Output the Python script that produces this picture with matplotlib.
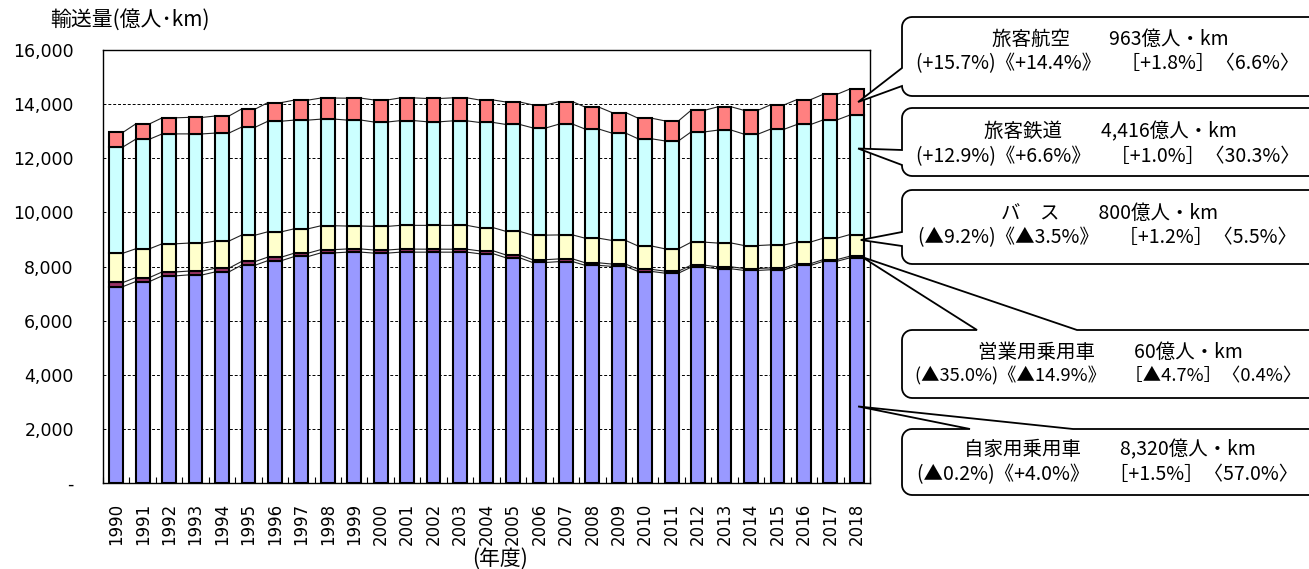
import numpy as np
import matplotlib
matplotlib.use('Agg')
import matplotlib.pyplot as plt
from matplotlib.patches import Polygon

plt.rcParams['font.family'] = ['DejaVu Sans', 'Noto Sans CJK JP']
JP = ['Noto Sans CJK JP', 'DejaVu Sans']

W, H = 1309, 569

years = ['1990', '1991', '1992', '1993', '1994', '1995', '1996', '1997', '1998', '1999',
         '2000', '2001', '2002', '2003', '2004', '2005', '2006', '2007', '2008', '2009',
         '2010', '2011', '2012', '2013', '2014', '2015', '2016', '2017', '2018']
# 輸送量（億人キロ）
jikayo = [7260, 7445, 7655, 7690, 7800, 8050, 8220, 8370, 8505, 8530,
          8495, 8530, 8530, 8530, 8470, 8320, 8150, 8180, 8040, 8005,
          7815, 7755, 7975, 7915, 7855, 7880, 8040, 8195, 8320]
eigyo = [150, 148, 145, 140, 138, 135, 130, 125, 120, 118,
         115, 113, 110, 108, 107, 105, 103, 100, 95, 85,
         78, 75, 73, 72, 70, 68, 66, 63, 60]
bus = [1083, 1062, 1040, 1035, 1002, 975, 935, 900, 880, 847,
       873, 877, 880, 882, 856, 872, 907, 886, 908, 873,
       860, 825, 850, 880, 850, 850, 800, 790, 800]
tetsudo = [3927, 4050, 4060, 4035, 3990, 3990, 4085, 4015, 3940, 3915,
           3857, 3870, 3830, 3863, 3889, 3951, 3964, 4094, 4032, 3967,
           3963, 3987, 4078, 4171, 4115, 4277, 4342, 4372, 4416]
koku = [540, 565, 595, 610, 630, 670, 690, 740, 780, 810,
        815, 840, 860, 850, 830, 830, 850, 830, 810, 760,
        760, 740, 800, 860, 880, 900, 920, 946, 963]

yticks = [0, 2000, 4000, 6000, 8000, 10000, 12000, 14000, 16000]
ylabels = ['-', '2,000', '4,000', '6,000', '8,000', '10,000', '12,000', '14,000', '16,000']

# 吹き出しの文字
callout_text = [
    ('旅客航空　　963億人・km', '(+15.7%)《+14.4%》　［+1.8%］〈6.6%〉'),
    ('旅客鉄道　　4,416億人・km', '(+12.9%)《+6.6%》　［+1.0%］〈30.3%〉'),
    ('バ　ス　　800億人・km', '(▲9.2%)《▲3.5%》　［+1.2%］〈5.5%〉'),
    ('営業用乗用車　　60億人・km', '(▲35.0%)《▲14.9%》　［▲4.7%］〈0.4%〉'),
    ('自家用乗用車　　8,320億人・km', '(▲0.2%)《+4.0%》　［+1.5%］〈57.0%〉'),
]

fig = plt.figure(figsize=(W / 100, H / 100), dpi=100)
ax = fig.add_axes([103 / W, 86 / H, 767 / W, 433 / H])

x = np.arange(len(years))
w = 0.52
series = [(jikayo, '#9999FF'), (eigyo, '#993366'), (bus, '#FFFFCC'),
          (tetsudo, '#CCFFFF'), (koku, '#FF8080')]
bottom = np.zeros(len(years))
levels = []
for vals, col in series:
    ax.bar(x, vals, w, bottom=bottom, color=col, edgecolor='black', linewidth=1.5, zorder=3)
    bottom = bottom + np.array(vals)
    levels.append(bottom.copy())

# 区分線
for lev in levels:
    xs, ys = [], []
    for i in range(len(x) - 1):
        xs += [x[i] + w / 2, x[i + 1] - w / 2, np.nan]
        ys += [lev[i], lev[i + 1], np.nan]
    ax.plot(xs, ys, color='#222222', lw=0.8, zorder=2)

ax.set_xlim(-0.5, len(years) - 0.5)
ax.set_ylim(0, 16000)
ax.set_yticks(yticks)
ax.set_yticklabels(ylabels)
ax.yaxis.grid(True, ls=(0, (3, 2)), color='black', lw=0.7)
ax.set_axisbelow(True)
ax.tick_params(axis='y', length=0, pad=21, labelsize=12.5)
ax.set_xticks(x)
ax.set_xticklabels(years, rotation=90, fontsize=12)
ax.tick_params(axis='x', length=0, pad=14)
ax.set_xticks(np.arange(-0.5, len(years), 1), minor=True)
ax.tick_params(axis='x', which='minor', direction='in', length=4, width=0.8)
for s in ax.spines.values():
    s.set_color('black')
    s.set_linewidth(1)

fig.text(50 / W, 1 - 20 / H, '輸送量(億人･km)', fontsize=15, family=JP, va='center', ha='left')
fig.text(500 / W, 1 - 559 / H, '(年度)', fontsize=15, family=JP, va='center', ha='center')

# 吹き出し
ov = fig.add_axes([0, 0, 1, 1])
ov.set_xlim(0, W)
ov.set_ylim(H, 0)
ov.axis('off')


def to_px(xd, yd):
    X, Y = ax.transData.transform((xd, yd))
    return X, H - Y


def callout(x0, y0, x1, y1, tip, base, side, r=10):
    pts = []

    def arc(cx, cy, a0, a1):
        for a in np.linspace(a0, a1, 8):
            pts.append((cx + r * np.cos(a), cy + r * np.sin(a)))

    arc(x0 + r, y0 + r, np.pi, 1.5 * np.pi)
    if side == 'top':
        pts += [(base[0], y0), tip, (base[1], y0)]
    arc(x1 - r, y0 + r, 1.5 * np.pi, 2 * np.pi)
    arc(x1 - r, y1 - r, 0, 0.5 * np.pi)
    arc(x0 + r, y1 - r, 0.5 * np.pi, np.pi)
    if side == 'left':
        pts += [(x0, base[1]), tip, (x0, base[0])]
    ov.add_patch(Polygon(pts, closed=True, fc='white', ec='black', lw=1.3, zorder=5))


last = len(years) - 1
tips = [
    to_px(last + 0.05, levels[3][-1] + koku[-1] * 0.5),
    to_px(last + 0.05, levels[2][-1] + tetsudo[-1] * 0.72),
    to_px(last + 0.15, levels[1][-1] + bus[-1] * 0.75),
    to_px(last + 0.2, levels[0][-1] + eigyo[-1] * 0.5),
    to_px(last + 0.05, jikayo[-1] * 0.34),
]
# (上端, 下端, 付け根, 向き, 1行目y, 2行目y, 2行目の大きさ)
boxes = [
    (17, 96, (68, 86), 'left', 39, 64, 14),
    (108, 176, (150, 165), 'left', 132, 157, 14),
    (190, 264, (232, 246), 'left', 213, 238, 14),
    (330, 398, (977, 1077), 'top', 352, 376, 13.2),
    (429, 495, (970, 1073), 'top', 450, 475, 14),
]
for (y0, y1, base, side, t1, t2, fs2), tip, (l1, l2) in zip(boxes, tips, callout_text):
    callout(902, y0, 1335, y1, tip, base, side)
    ov.text(1110, t1, l1, ha='center', va='center', fontsize=14, family=JP, zorder=6)
    ov.text(1108, t2, l2, ha='center', va='center', fontsize=fs2, family=JP, zorder=6)

fig.savefig('out.png', dpi=100)
